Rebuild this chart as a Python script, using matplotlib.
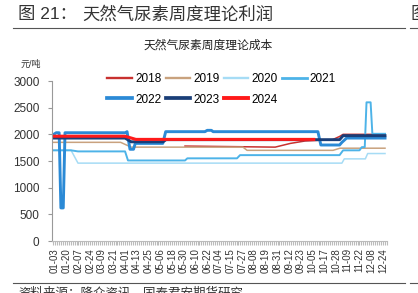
import matplotlib.pyplot as plt
from matplotlib.lines import Line2D
from matplotlib.ticker import MultipleLocator

plt.rcParams['font.family'] = ['Liberation Sans', 'Noto Sans CJK SC']

# x positions are in units of tick-label slots (0 = 01-03, 28 = 12-24)
labels = ['01-03', '01-20', '02-07', '02-24', '03-09', '03-21', '04-01', '04-13',
          '04-25', '05-06', '05-18', '05-30', '06-10', '06-22', '07-04', '07-15',
          '07-27', '08-08', '08-19', '08-31', '09-12', '09-23', '10-05', '10-17',
          '10-28', '11-09', '11-22', '12-08', '12-24']

x2018 = [11.1, 18.8, 20.1, 21.35, 23.7, 24.3, 24.6, 28.18]
y2018 = [1780, 1760, 1830, 1875, 1900, 1960, 2000, 2000]

x2019 = [-0.26, 5.6, 6.5, 16.05, 16.4, 23.74, 24.34, 28.18]
y2019 = [1850, 1850, 1760, 1760, 1700, 1700, 1740, 1740]

x2020 = [-0.26, 1.37, 1.96, 24.5, 24.7, 26.5, 26.7, 28.18]
y2020 = [1700, 1700, 1460, 1460, 1540, 1540, 1640, 1640]

x2021 = [-0.26, 1.37, 1.96, 5.98, 6.23, 11.1, 11.3, 15.54, 15.8, 24.3, 24.6,
         26.0, 26.2, 26.45, 26.6, 26.95, 27.1, 28.18]
y2021 = [1700, 1700, 1680, 1680, 1510, 1510, 1550, 1550, 1610, 1610, 1700,
         1700, 1760, 1760, 2600, 2600, 2010, 2010]

x2022 = [-0.26, 0.1, 0.35, 0.5, 0.7, 0.85, 6.0, 6.15, 6.4, 6.7, 6.85, 9.2, 9.45,
         12.8, 13.0, 13.35, 13.5, 22.45, 22.7, 24.3, 24.5, 24.9, 28.18]
y2022 = [1980, 2030, 2030, 620, 620, 2030, 2030, 2050, 1720, 1720, 1830, 1830, 2050,
         2050, 2075, 2075, 2050, 2050, 1800, 1800, 1850, 1930, 1930]

x2023 = [-0.26, 5.98, 6.5, 9.22, 9.48, 24.3, 24.6, 28.18]
y2023 = [1930, 1930, 1860, 1860, 1900, 1900, 1975, 1975]

x2024 = [-0.26, 5.98, 6.9, 22.1]
y2024 = [1965, 1965, 1905, 1905]

series = [
    ('2018', x2018, y2018, '#c8312f', 1.1),
    ('2019', x2019, y2019, '#c9a27e', 1.1),
    ('2020', x2020, y2020, '#a6dcf5', 1.1),
    ('2021', x2021, y2021, '#4db3e8', 1.4),
    ('2022', x2022, y2022, '#2b8ad6', 2.1),
    ('2023', x2023, y2023, '#1a3e78', 2.1),
    ('2024', x2024, y2024, '#ff1a1a', 2.2),
]

fig = plt.figure(figsize=(4.18, 2.93), dpi=100)
ax = fig.add_axes([52/418, 1-241/293, 335/418, 160/293])

for name, xs, ys, c, lw in series:
    ax.plot(xs, ys, color=c, lw=lw, label=name, solid_joinstyle='round')

ax.set_xlim(-0.26, 28.35)
ax.set_ylim(0, 3000)
ax.set_yticks(range(0, 3001, 500))
ax.set_xticks(range(len(labels)))
ax.set_xticklabels(labels, rotation=90, fontsize=7, color='#333333')
ax.xaxis.set_minor_locator(MultipleLocator(1/6))
ax.tick_params(axis='x', which='both', length=3, width=0.8, color='#bbbbbb', pad=2)
ax.tick_params(axis='y', length=3, color='#999999', labelsize=8.5, labelcolor='#333333', pad=6)
for s in ['top', 'right']:
    ax.spines[s].set_visible(False)
ax.spines['left'].set_color('#999999')
ax.spines['bottom'].set_color('#bbbbbb')

# legend reads row by row: 2018-2021 on top, 2022-2024 below
order = [0, 4, 1, 5, 2, 6, 3]
handles = [Line2D([], [], color=series[i][3], lw=series[i][4] + 0.6) for i in order]
fig.legend(handles, [series[i][0] for i in order], ncol=4, frameon=False,
           loc='upper left', bbox_to_anchor=(0.257, 0.75), borderaxespad=0,
           borderpad=0, fontsize=8.5, handlelength=2.1, handletextpad=0.25,
           columnspacing=0.35, labelspacing=0.7)

# titles and frame lines
fig.text(18/418, 1-14/293, '图 21：', fontsize=12.5, color='#333333', va='center')
fig.text(82/418, 1-14/293, '天然气尿素周度理论利润', fontsize=12.5, color='#333333', va='center')
fig.text(410/418, 1-14/293, '图', fontsize=12.5, color='#333333', va='center')
fig.add_artist(Line2D([13/418, 405/418], [1-28/293, 1-28/293], color='#555555', lw=0.8))
fig.add_artist(Line2D([410/418, 1], [1-28/293, 1-28/293], color='#555555', lw=0.8))
fig.text(208/418, 1-46/293, '天然气尿素周度理论成本', fontsize=8.5, color='#222222',
         ha='center', va='center')
fig.text(21/418, 1-64/293, '元/吨', fontsize=6.5, color='#333333', va='center')
fig.add_artist(Line2D([13/418, 405/418], [1-283/293, 1-283/293], color='#555555', lw=0.8))
fig.add_artist(Line2D([410/418, 1], [1-283/293, 1-283/293], color='#555555', lw=0.8))
fig.text(18/418, 1-287/293, '资料来源：隆众资讯，国泰君安期货研究', fontsize=9,
         color='#333333', va='top')

fig.savefig('out.png', dpi=100)
